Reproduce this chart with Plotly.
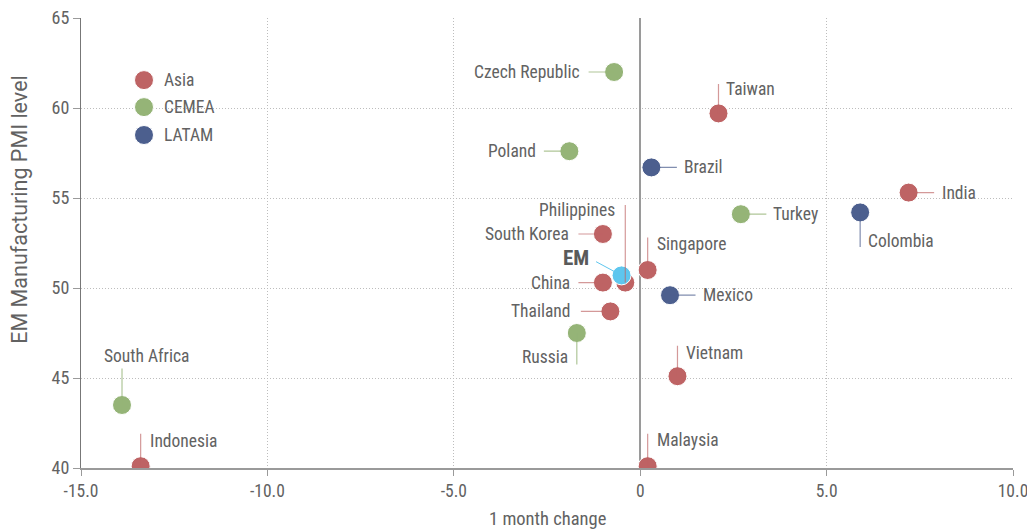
import plotly.graph_objects as go

# ---- data ----
countries = ["Czech Republic", "Taiwan", "Poland", "Brazil", "India", "Turkey", "Colombia",
             "South Korea", "Singapore", "Philippines", "China", "Mexico", "Thailand",
             "Russia", "Vietnam", "South Africa", "Indonesia", "Malaysia"]
change_1m = [-0.7, 2.1, -1.9, 0.3, 7.2, 2.7, 5.9,
             -1.0, 0.2, -0.4, -1.0, 0.8, -0.8,
             -1.7, 1.0, -13.9, -13.4, 0.2]
pmi_level = [62.0, 59.7, 57.6, 56.7, 55.3, 54.1, 54.2,
             53.0, 51.0, 50.3, 50.3, 49.6, 48.7,
             47.5, 45.1, 43.5, 40.1, 40.1]
region = ["CEMEA", "Asia", "CEMEA", "LATAM", "Asia", "CEMEA", "LATAM",
          "Asia", "Asia", "Asia", "Asia", "LATAM", "Asia",
          "CEMEA", "Asia", "CEMEA", "Asia", "Asia"]
em_label = "EM"
em_change = -0.5
em_level = 50.7

regions = ["Asia", "CEMEA", "LATAM"]
x_ticks = [-15, -10, -5, 0, 5, 10]
x_tick_text = ["-15.0", "-10.0", "-5.0", "0", "5.0", "10.0"]
y_ticks = [40, 45, 50, 55, 60, 65]
x_title = "1 month change"
y_title = "EM Manufacturing PMI level"

# ---- styling ----
colors = {"Asia": "#BE6364", "CEMEA": "#95B477", "LATAM": "#4C5F8E", "EM": "#5EC6EE"}
line_colors = {"Asia": "rgba(190,99,100,0.65)", "CEMEA": "rgba(149,180,119,0.75)",
               "LATAM": "rgba(76,95,142,0.7)", "EM": "#5EC6EE"}
FONT = "Roboto Condensed, Liberation Sans Narrow, Arial Narrow, Roboto, sans-serif"
TXT = "#626262"
LBL = 17.5

# label layout: (arrow ax, arrow ay, text xshift, text yshift, xanchor)
label_pos = {
    "Czech Republic": (-26, 0, -32, 0, "right"),
    "Taiwan": (0, -30, 6, 24, "left"),
    "Poland": (-26, 0, -31, 0, "right"),
    "Brazil": (26, 0, 31, 0, "left"),
    "India": (26, 0, 31, 0, "left"),
    "Turkey": (26, 0, 30, 0, "left"),
    "Colombia": (0, 35, 6, -29, "left"),
    "South Korea": (-25, 0, -32, 0, "right"),
    "Singapore": (0, -33, 7, 26, "left"),
    "Philippines": (0, -78, -8, 73, "right"),
    "China": (-25, 0, -31, 0, "right"),
    "Mexico": (26, 0, 31, 0, "left"),
    "Thailand": (-30, 0, -37, 0, "right"),
    "Russia": (0, 32, -7, -24, "right"),
    "Vietnam": (0, -31, 7, 23, "left"),
    "South Africa": (0, -37, -20, 49, "left"),
    "Indonesia": (0, -33, 7, 25, "left"),
    "Malaysia": (0, -33, 7, 26, "left"),
}

fig = go.Figure()

for r in regions:
    xs = [x for x, g in zip(change_1m, region) if g == r]
    ys = [y for y, g in zip(pmi_level, region) if g == r]
    names = [c for c, g in zip(countries, region) if g == r]
    fig.add_trace(go.Scatter(
        x=xs, y=ys, mode="markers", name=r, text=names, showlegend=False,
        marker=dict(size=19, color=colors[r], line=dict(color="white", width=1)),
    ))

fig.add_trace(go.Scatter(
    x=[em_change], y=[em_level], mode="markers", name=em_label, showlegend=False,
    marker=dict(size=19, color=colors["EM"], line=dict(color="white", width=1)),
))

annotations = []
for c, x, y, g in zip(countries, change_1m, pmi_level, region):
    ax, ay, xs, ys, xa = label_pos[c]
    annotations.append(dict(x=x, y=y, xref="x", yref="y", text="", showarrow=True,
                            ax=ax, ay=ay, arrowhead=0, arrowwidth=1.2,
                            arrowcolor=line_colors[g], borderpad=0))
    annotations.append(dict(x=x, y=y, xref="x", yref="y", text=c, showarrow=False,
                            xshift=xs, yshift=ys, xanchor=xa, yanchor="middle",
                            font=dict(family=FONT, size=LBL, color=TXT)))

annotations.append(dict(x=em_change, y=em_level, xref="x", yref="y", text="", showarrow=True,
                        ax=-26, ay=-14, arrowhead=0, arrowwidth=1, arrowcolor=line_colors["EM"],
                        borderpad=0))
annotations.append(dict(x=em_change, y=em_level, xref="x", yref="y", text="<b>EM</b>",
                        showarrow=False, xshift=-31, yshift=17, xanchor="right", yanchor="middle",
                        font=dict(family=FONT, size=21, color="#5a5a5a")))

# axis titles
annotations.append(dict(x=0.5, y=-0.113, xref="paper", yref="paper", text=x_title,
                        showarrow=False, xanchor="center", yanchor="middle",
                        font=dict(family=FONT, size=18.5, color=TXT)))
annotations.append(dict(x=-0.0655, y=0.576, xref="paper", yref="paper", text=y_title,
                        showarrow=False, xanchor="center", yanchor="middle", textangle=-90,
                        font=dict(family="Roboto, sans-serif", size=21.5, color=TXT)))

# manual legend
shapes = []
legend_y = [0.862, 0.802, 0.740]
for r, ly in zip(regions, legend_y):
    shapes.append(dict(type="circle", xref="paper", yref="paper", xsizemode="pixel",
                       ysizemode="pixel", xanchor=0.0676, yanchor=ly,
                       x0=-9.5, x1=9.5, y0=-9.5, y1=9.5,
                       fillcolor=colors[r], line=dict(color="white", width=1)))
    annotations.append(dict(x=0.0676, y=ly, xref="paper", yref="paper", text=r,
                            showarrow=False, xshift=18, xanchor="left", yanchor="middle",
                            font=dict(family=FONT, size=LBL, color=TXT)))

grid = dict(showgrid=True, gridcolor="#bdbdbd", griddash="1px,2px", gridwidth=1)

fig.update_layout(
    width=1027, height=530,
    margin=dict(l=81, r=14, t=18, b=62),
    paper_bgcolor="white", plot_bgcolor="white",
    font=dict(family=FONT, size=17, color=TXT),
    showlegend=False,
    annotations=annotations,
    shapes=shapes,
    xaxis=dict(
        range=[-15, 10], tickvals=x_ticks, ticktext=x_tick_text, automargin=False,
        ticklabeloverflow="allow",
        zeroline=True, zerolinecolor="#9a9a9a", zerolinewidth=1.5,
        showline=True, linecolor="#9a9a9a", linewidth=1.5,
        ticks="outside", ticklen=6, tickcolor="#9a9a9a",
        tickfont=dict(family=FONT, size=17.5, color=TXT), **grid,
    ),
    yaxis=dict(
        range=[40, 65], tickvals=y_ticks, automargin=False,
        ticklabeloverflow="allow",
        zeroline=False,
        showline=True, linecolor="#777777", linewidth=1.2,
        ticks="outside", ticklen=7, tickcolor="#9a9a9a",
        tickfont=dict(family=FONT, size=18, color=TXT), **grid,
    ),
)

fig.write_html("out.html")
